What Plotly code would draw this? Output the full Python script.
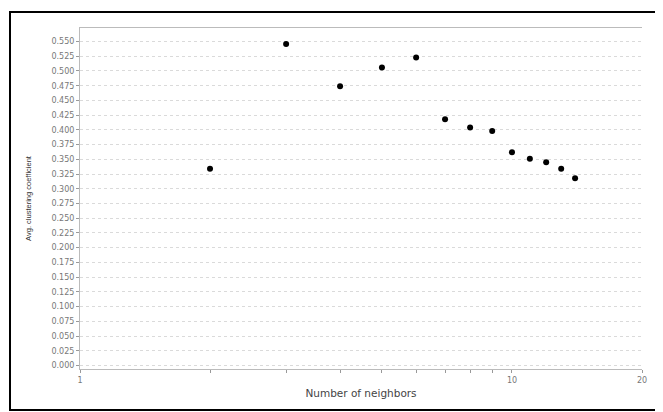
import plotly.graph_objects as go

neighbors = [2, 3, 4, 5, 6, 7, 8, 9, 10, 11, 12, 13, 14]
avg_clustering = [0.334, 0.546, 0.474, 0.506, 0.523, 0.418, 0.404, 0.398, 0.362, 0.351, 0.345, 0.334, 0.318]

x_tickvals = [1, 2, 3, 4, 5, 6, 7, 8, 9, 10, 20]
x_ticktext = ["1", "", "", "", "", "", "", "", "", "10", "20"]
y_tickvals = [i * 0.025 for i in range(23)]
y_ticktext = ["%.3f" % v for v in y_tickvals]

# page body has an 8px margin; the figure is sized to fit the window
OFF = 8
W, H = 663 - OFF, 412 - OFF
L, R, T, B = 80 - OFF, 21, 28 - OFF, 43
pw, ph = W - L - R, H - T - B

fig = go.Figure()
fig.add_trace(go.Scatter(
    x=neighbors, y=avg_clustering, mode="markers",
    marker=dict(color="black", size=6),
    showlegend=False,
))

fig.update_layout(
    width=W, height=H,
    margin=dict(l=L, r=R, t=T, b=B, autoexpand=False),
    paper_bgcolor="white", plot_bgcolor="white",
    font=dict(family="DejaVu Sans", size=8, color="#555"),
    xaxis=dict(
        type="log", range=[0, 1.30103], automargin=False,
        tickvals=x_tickvals, ticktext=x_ticktext,
        ticks="outside", ticklen=3, tickcolor="#999",
        showgrid=False, zeroline=False,
        showline=True, linecolor="#bbb", linewidth=1, mirror=True,
        title=dict(text="Number of neighbors",
                   font=dict(family="DejaVu Sans", size=10.5, color="#444"), standoff=6),
        tickfont=dict(size=8, color="#777"),
    ),
    yaxis=dict(
        range=[-0.006, 0.573], automargin=False,
        tickvals=y_tickvals, ticktext=y_ticktext,
        ticks="outside", ticklen=3, tickcolor="#999",
        showgrid=True, gridcolor="#dadada", griddash="dot", gridwidth=1,
        zeroline=False,
        showline=True, linecolor="#bbb", linewidth=1,
        title=dict(text="Avg. clustering coefficient",
                   font=dict(family="Liberation Sans", size=7.5, color="#333"), standoff=18),
        tickfont=dict(size=8, color="#777"),
    ),
)

# outer black border of the image (window coords 10..656 x 12..410)
x0p, x1p = (10 - OFF - L) / pw, (656 - OFF - L) / pw
y0p, y1p = (H - B - (410 - OFF)) / ph, (H - B - (12 - OFF)) / ph
fig.add_shape(type="rect", xref="paper", yref="paper",
              x0=x0p, x1=x1p, y0=y0p, y1=y1p,
              line=dict(color="black", width=2), layer="below")

fig.write_html("out.html")
